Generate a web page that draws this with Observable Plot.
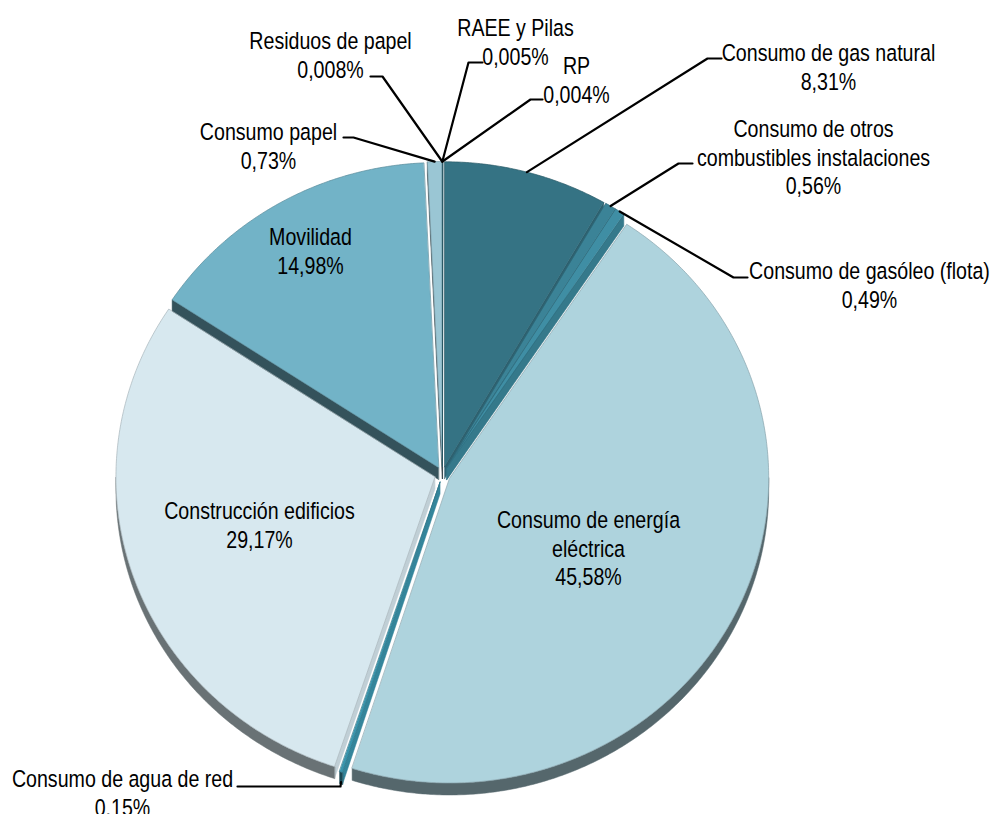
<!DOCTYPE html>
<html>
<head>
<meta charset="utf-8">
<script src="https://cdn.jsdelivr.net/npm/d3@7"></script>
<script src="https://cdn.jsdelivr.net/npm/@observablehq/plot@0.6"></script>
<style>
  html, body { margin: 0; padding: 0; background: #ffffff; }
  #chart { width: 991px; height: 814px; }
</style>
</head>
<body>
<div id="chart"></div>
<script>
// ---- data ----
const categories = [
  "Consumo de gas natural",
  "Consumo de otros combustibles instalaciones",
  "Consumo de gasóleo (flota)",
  "Consumo de energía eléctrica",
  "Consumo de agua de red",
  "Construcción edificios",
  "Movilidad",
  "Consumo papel",
  "Residuos de papel",
  "RAEE y Pilas",
  "RP"
];
const values = [8.31, 0.56, 0.49, 45.58, 0.15, 29.17, 14.98, 0.73, 0.008, 0.005, 0.004];
const valueLabels = ["8,31%", "0,56%", "0,49%", "45,58%", "0,15%", "29,17%", "14,98%", "0,73%", "0,008%", "0,005%", "0,004%"];
const labelNames = [
  "Consumo de gas natural",
  "Consumo de otros\ncombustibles instalaciones",
  "Consumo de gasóleo (flota)",
  "Consumo de energía\neléctrica",
  "Consumo de agua de red",
  "Construcción edificios",
  "Movilidad",
  "Consumo papel",
  "Residuos de papel",
  "RAEE y Pilas",
  "RP"
];
const sliceColors = ["#357384", "#3b8397", "#3f8ea4", "#aed3dd", "#3a95ad", "#d7e8ef", "#72b3c7", "#9ac6d4", "#b9dbe5", "#5aa6bb", "#2f6878"];

// ---- layout (pixels) ----
const W = 991, H = 814;
const cx = 442, cy = 474, rx = 319, ry = 305, depth = 12, explode = 8;
const fontScaleX = 0.835;
// label layout: text centre (tx, ty); leader elbow (ex, ey) and end of horizontal tick (hx)
const labelLayout = [
  {tx: 828, ty: 66,  ex: 707, ey: 58,  hx: 721},
  {tx: 813, ty: 156, ex: 678, ey: 163, hx: 692},
  {tx: 869, ty: 284, ex: 733, ey: 277, hx: 747},
  {tx: 588, ty: 547, inside: true},
  {tx: 122, ty: 792, ex: 340, ey: 786, hx: 237, bottom: true},
  {tx: 259, ty: 524, inside: true},
  {tx: 310, ty: 250, inside: true},
  {tx: 268, ty: 145, ex: 353, ey: 137, hx: 343},
  {tx: 330, ty: 54,  ex: 382, ey: 76,  hx: 370},
  {tx: 515, ty: 41,  ex: 468, ey: 62,  hx: 482},
  {tx: 576, ty: 79,  ex: 530, ey: 99,  hx: 542}
];

const rad = a => a * Math.PI / 180;
const total = d3.sum(values);
let acc = 0;
const slices = values.map((v, i) => {
  const a0 = acc / total * 360; acc += v; const a1 = acc / total * 360;
  const m = (a0 + a1) / 2;
  return {i, a0, a1, m, ox: explode * Math.sin(rad(m)), oy: -explode * Math.cos(rad(m)), color: sliceColors[i]};
});
function pt(s, a, dy = 0) {
  return {x: cx + s.ox + rx * Math.sin(rad(a)), y: cy + s.oy - ry * Math.cos(rad(a)) + dy};
}
function arc(s, a0, a1, dy = 0) {
  const n = Math.max(2, Math.ceil((a1 - a0) / 0.5) + 1);
  return d3.range(n).map(k => pt(s, a0 + (a1 - a0) * k / (n - 1), dy));
}
const apex = (s, dy = 0) => ({x: cx + s.ox, y: cy + s.oy + dy});

// side faces
const sides = [];
for (const s of slices) {
  const b0 = Math.max(s.a0, 90), b1 = Math.min(s.a1, 270);
  if (b1 > b0) {
    const poly = [...arc(s, b0, b1), ...arc(s, b0, b1, depth).reverse()];
    sides.push({poly, color: d3.color(s.color).darker(2).formatHex()});
  }
  if (Math.sin(rad(s.a0)) < 0) {
    const nx = -Math.cos(rad(s.a0));
    const p = pt(s, s.a0);
    const poly = [apex(s), p, {x: p.x, y: p.y + depth}, apex(s, depth)];
    sides.push({poly, color: d3.color(s.color).darker(Math.max(0.2, 1.5 - 1.25 * nx)).formatHex()});
  }
  if (Math.sin(rad(s.a1)) > 0) {
    const nx = Math.cos(rad(s.a1));
    const p = pt(s, s.a1);
    const poly = [apex(s), p, {x: p.x, y: p.y + depth}, apex(s, depth)];
    sides.push({poly, color: d3.color(s.color).darker(Math.max(0.2, 1.5 - 1.25 * nx)).formatHex()});
  }
}
sides.sort((a, b) => d3.mean(a.poly, d => d.y) - d3.mean(b.poly, d => d.y));

const marks = [];
for (const f of sides) {
  marks.push(Plot.line(f.poly, {x: "x", y: "y", curve: "linear-closed", fill: f.color, stroke: f.color, strokeWidth: 0.5}));
}
for (const s of slices) {
  const poly = [apex(s), ...arc(s, s.a0, s.a1)];
  marks.push(Plot.line(poly, {x: "x", y: "y", curve: "linear-closed", fill: s.color,
    stroke: d3.color(s.color).darker(0.7).formatHex(), strokeWidth: 0.7}));
}
// leader lines
slices.forEach((s, i) => {
  const L = labelLayout[i];
  if (L.inside) return;
  const p = pt(s, s.m, L.bottom ? depth - 2 : 0);
  const path = [p, {x: L.ex, y: L.ey}, {x: L.hx, y: L.ey}];
  marks.push(Plot.line(path, {x: "x", y: "y", stroke: "#000", strokeWidth: 2.2}));
});
// labels
const labelData = slices.map((s, i) => ({
  x: labelLayout[i].tx, y: labelLayout[i].ty, text: labelNames[i] + "\n" + valueLabels[i]
}));
marks.push(Plot.text(labelData, {
  x: "x", y: "y", text: "text", textAnchor: "middle", lineAnchor: "middle", lineHeight: 1.2,
  fontSize: 23.5, fill: "#000",
  fontFamily: "'Liberation Sans', Arial, sans-serif"
}));

const chart = Plot.plot({
  width: W, height: H, margin: 0,
  x: {domain: [0, W], range: [0, W], axis: null},
  y: {domain: [0, H], range: [0, H], axis: null},
  style: {background: "#ffffff", overflow: "visible"},
  marks
});
document.getElementById("chart").appendChild(chart);

// condense the label glyphs horizontally (Arial Narrow look) around each text's anchor
chart.querySelectorAll("g[aria-label='text'] text").forEach(t => {
  const tr = t.getAttribute("transform");
  if (tr && /translate/.test(tr)) {
    t.setAttribute("transform", tr + ` scale(${fontScaleX},1)`);
  } else {
    const x = +(t.getAttribute("x") || 0), y = +(t.getAttribute("y") || 0);
    t.setAttribute("x", 0); t.setAttribute("y", 0);
    t.querySelectorAll("tspan").forEach(ts => { if (ts.hasAttribute("x")) ts.setAttribute("x", 0); });
    t.setAttribute("transform", `translate(${x},${y}) scale(${fontScaleX},1)`);
  }
});
</script>
</body>
</html>
